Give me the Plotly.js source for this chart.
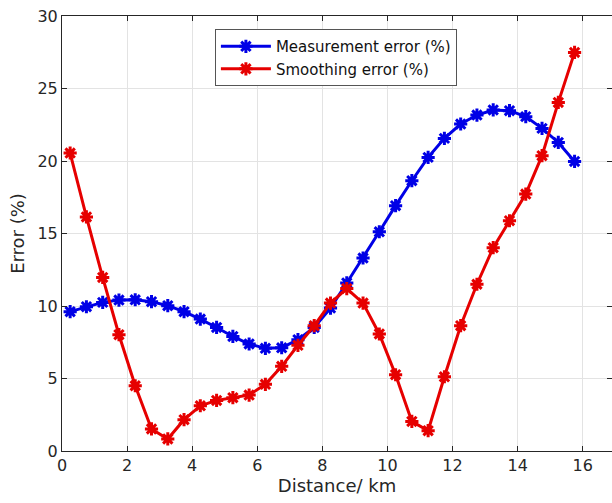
<!DOCTYPE html>
<html>
<head>
<meta charset="utf-8">
<script src="https://cdn.plot.ly/plotly-3.0.1.min.js"></script>
<style>html,body{margin:0;padding:0;background:#fff;}#chart{width:612px;height:503px;}</style>
</head>
<body>
<div id="chart"></div>
<script>
// Distance (km)
const distance = [0.25,0.75,1.25,1.75,2.25,2.75,3.25,3.75,4.25,4.75,5.25,5.75,6.25,6.75,7.25,7.75,
                  8.25,8.75,9.25,9.75,10.25,10.75,11.25,11.75,12.25,12.75,13.25,13.75,14.25,14.75,15.25,15.75];
const measurementError = [9.61,9.95,10.25,10.41,10.43,10.3,10.02,9.61,9.1,8.52,7.9,7.38,7.08,7.12,7.68,8.52,
                          9.86,11.59,13.31,15.12,16.92,18.64,20.25,21.56,22.55,23.17,23.52,23.47,23.06,22.25,21.28,19.97];
const smoothingError = [20.55,16.14,11.97,8.02,4.5,1.52,0.83,2.16,3.12,3.49,3.68,3.86,4.6,5.84,7.29,8.64,
                        10.2,11.2,10.2,8.07,5.26,2.04,1.4,5.12,8.64,11.5,14.02,15.88,17.72,20.37,24.04,27.49];
const seriesNames = ['Measurement error (%)','Smoothing error (%)'];
const xTicks = [0,2,4,6,8,10,12,14,16];
const yTicks = [0,5,10,15,20,25,30];

const axisColor = '#262626';
const font = 'DejaVu Sans, sans-serif';

function trace(y, name, color){
  return {
    x: distance, y: y, name: name, type: 'scatter', mode: 'lines+markers',
    line: {color: color, width: 3},
    marker: {symbol: 'asterisk-open', size: 11, color: color, line: {color: color, width: 3}}
  };
}

const data = [
  trace(measurementError, seriesNames[0], '#0000e6'),
  trace(smoothingError, seriesNames[1], '#e60000')
];

const layout = {
  width: 612, height: 503,
  margin: {l: 62, r: 0, t: 16, b: 52},
  paper_bgcolor: '#fff', plot_bgcolor: '#fff',
  font: {family: font, color: axisColor},
  showlegend: true,
  legend: {
    x: 0.278, y: 0.97, xanchor: 'left', yanchor: 'top',
    bgcolor: '#fff', bordercolor: '#555', borderwidth: 1,
    font: {family: font, size: 15, color: '#111'},
    tracegroupgap: 0, itemwidth: 50
  },
  xaxis: {
    range: [0, 16.9], tickvals: xTicks, ticktext: xTicks.map(String),
    showgrid: true, gridcolor: '#e3e3e3', gridwidth: 1,
    showline: true, linecolor: axisColor, linewidth: 1, mirror: 'ticks',
    ticks: 'inside', ticklen: 5, tickcolor: axisColor,
    tickfont: {family: font, size: 16, color: axisColor},
    zeroline: false,
    title: {text: 'Distance/ km', font: {family: font, size: 18, color: axisColor}, standoff: 4}
  },
  yaxis: {
    range: [0, 30], tickvals: yTicks, ticktext: yTicks.map(String),
    showgrid: true, gridcolor: '#e3e3e3', gridwidth: 1,
    showline: true, linecolor: axisColor, linewidth: 1, mirror: 'ticks',
    ticks: 'inside', ticklen: 5, tickcolor: axisColor,
    tickfont: {family: font, size: 16, color: axisColor},
    zeroline: false,
    title: {text: 'Error (%)', font: {family: font, size: 18, color: axisColor}, standoff: 8}
  }
};

Plotly.newPlot('chart', data, layout, {displayModeBar: false, staticPlot: true});
</script>
</body>
</html>
